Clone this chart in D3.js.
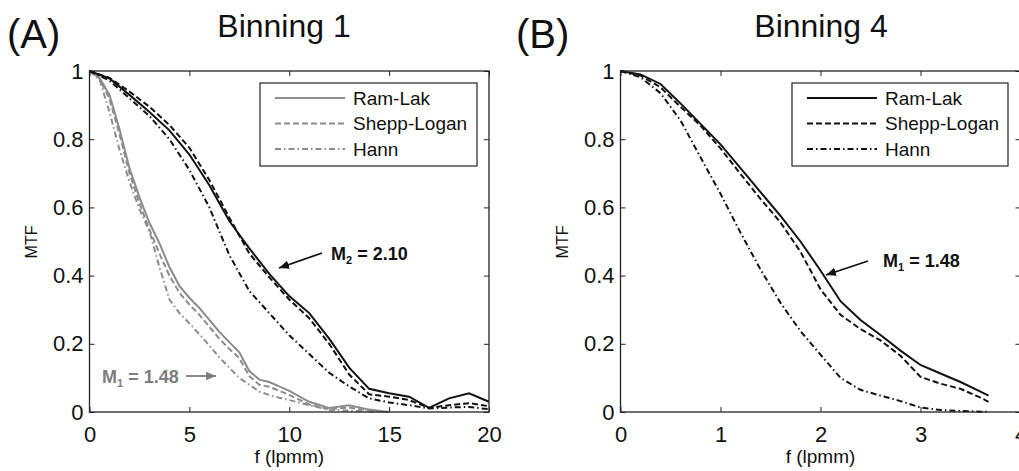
<!DOCTYPE html>
<html>
<head>
<meta charset="utf-8">
<script src="https://cdn.jsdelivr.net/npm/d3@7"></script>
<style>
  html, body { margin: 0; padding: 0; background: #fff; }
  svg { display: block; font-family: "Liberation Sans", Arial, Helvetica, sans-serif; }
</style>
</head>
<body>
<svg id="chart" width="1019" height="471"></svg>
<script>
// ---- Binning 1: spatial frequency samples (lpmm) ----
const freqB1M2 = [0,1,2,3,4,5,6,7,8,9,10,11,12,13,14,15,16,17,18,19,20];
const freqB1M1 = [0,0.5,1,1.5,2,2.5,3,3.5,4,4.5,5,5.5,6,6.5,7,7.5,8,8.5,9,9.5,10,11,12,13,14,15];

// MTF at magnification M2 = 2.10 (black curves)
const ramLakB1M2    = [1.0,0.978,0.93,0.88,0.826,0.755,0.665,0.56,0.48,0.405,0.34,0.29,0.215,0.13,0.068,0.055,0.045,0.012,0.04,0.055,0.03];
const sheppLoganB1M2 = [1.0,0.98,0.94,0.895,0.842,0.775,0.68,0.57,0.465,0.395,0.33,0.275,0.2,0.11,0.052,0.045,0.035,0.012,0.02,0.026,0.017];
const hannB1M2      = [1.0,0.972,0.92,0.868,0.8,0.71,0.6,0.46,0.355,0.29,0.225,0.17,0.115,0.075,0.04,0.028,0.02,0.01,0.013,0.015,0.008];

// MTF at magnification M1 = 1.48 (gray curves)
const ramLakB1M1    = [1.0,0.98,0.93,0.83,0.715,0.63,0.555,0.495,0.425,0.37,0.335,0.305,0.27,0.235,0.205,0.175,0.12,0.095,0.088,0.075,0.062,0.03,0.012,0.02,0.007,0.0];
const sheppLoganB1M1 = [1.0,0.978,0.918,0.815,0.70,0.612,0.535,0.465,0.40,0.35,0.315,0.285,0.25,0.215,0.185,0.158,0.105,0.08,0.074,0.062,0.05,0.022,0.008,0.013,0.004,0.0];
const hannB1M1      = [1.0,0.975,0.88,0.77,0.675,0.595,0.53,0.425,0.33,0.29,0.26,0.228,0.195,0.16,0.13,0.1,0.08,0.06,0.05,0.042,0.035,0.02,0.006,0.004,0.001,0.0];

// ---- Binning 4, magnification M1 = 1.48 ----
const freqB4 = [0,0.2,0.4,0.6,0.8,1.0,1.2,1.4,1.6,1.8,2.0,2.2,2.4,2.6,2.8,3.0,3.2,3.4,3.6,3.68];
const ramLakB4     = [1.0,0.99,0.962,0.905,0.845,0.785,0.715,0.645,0.575,0.50,0.415,0.325,0.27,0.226,0.18,0.138,0.113,0.088,0.06,0.048];
const sheppLoganB4 = [1.0,0.987,0.952,0.895,0.84,0.773,0.698,0.625,0.556,0.47,0.36,0.285,0.243,0.21,0.165,0.103,0.083,0.068,0.042,0.03];
const hannB4       = [1.0,0.982,0.935,0.855,0.747,0.64,0.526,0.418,0.32,0.237,0.168,0.1,0.065,0.048,0.032,0.013,0.006,0.003,0.001,0.001];

// Axis ticks and labels
const ticksB1 = [0,5,10,15,20];
const ticksB4 = [0,1,2,3,4];
const ticksMTF = [0,0.2,0.4,0.6,0.8,1];
const filterNames = ["Ram-Lak","Shepp-Logan","Hann"];

const svg = d3.select("#chart");
svg.append("rect").attr("width",1019).attr("height",471).attr("fill","#fff");

const GRAY = "#8c8c8c";
const dashes = ["none","6,3","6,3,1.5,3"];
const plotTop = 71, plotBottom = 412;

function panel(opts) {
  const x = d3.scaleLinear().domain(opts.xDomain).range(opts.xRange);
  const y = d3.scaleLinear().domain([0,1]).range([plotBottom, plotTop]);
  const g = svg.append("g");
  const [x0, x1] = opts.xRange;

  // inward ticks on all four sides
  const fmtY = d => d === 0 || d === 1 ? String(d) : d3.format(".1f")(d);
  const axB = g.append("g").attr("transform",`translate(0,${plotBottom})`)
    .call(d3.axisBottom(x).tickValues(opts.xTicks).tickSize(-5).tickPadding(14).tickFormat(d3.format("d")));
  const axT = g.append("g").attr("transform",`translate(0,${plotTop})`)
    .call(d3.axisTop(x).tickValues(opts.xTicks).tickSize(-5).tickFormat(""));
  const axL = g.append("g").attr("transform",`translate(${x0},0)`)
    .call(d3.axisLeft(y).tickValues(ticksMTF).tickSize(-5).tickPadding(6).tickFormat(fmtY));
  const axR = g.append("g").attr("transform",`translate(${x1},0)`)
    .call(d3.axisRight(y).tickValues(ticksMTF).tickSize(-5).tickFormat(""));
  [axB, axT, axL, axR].forEach(a => {
    a.select(".domain").remove();
    a.selectAll(".tick line").attr("stroke","#222").attr("stroke-width",1);
    a.selectAll("text").attr("fill","#111").attr("font-size",22)
      .attr("font-family",'"Liberation Sans", Arial, sans-serif');
  });

  // curves
  const line = d3.line().x(d => x(d[0])).y(d => y(d[1]));
  opts.series.forEach(s => {
    g.append("path")
      .datum(s.f.map((f,i) => [f, s.v[i]]))
      .attr("d", line)
      .attr("fill","none")
      .attr("stroke", s.color)
      .attr("stroke-width", 2)
      .attr("stroke-dasharray", dashes[s.style]);
  });

  // frame
  g.append("rect").attr("x",x0).attr("y",plotTop).attr("width",x1-x0).attr("height",plotBottom-plotTop)
    .attr("fill","none").attr("stroke","#222").attr("stroke-width",1.3);

  // legend
  const lg = g.append("g");
  lg.append("rect").attr("x",opts.legend.x).attr("y",83).attr("width",opts.legend.w).attr("height",83)
    .attr("fill","#fff").attr("stroke","#333").attr("stroke-width",1.3);
  filterNames.forEach((name,i) => {
    const ly = 98 + i*25.5;
    lg.append("line").attr("x1",opts.legend.x+15).attr("x2",opts.legend.x+85)
      .attr("y1",ly).attr("y2",ly)
      .attr("stroke",opts.legend.color).attr("stroke-width",2)
      .attr("stroke-dasharray",dashes[i]);
    lg.append("text").attr("x",opts.legend.x+93).attr("y",ly).attr("dy","0.35em")
      .attr("font-size",19).attr("fill","#111").text(name);
  });

  // axis titles
  g.append("text").attr("x",(x0+x1)/2).attr("y",463).attr("text-anchor","middle")
    .attr("font-size",19).attr("fill","#111").text("f (lpmm)");
  g.append("text").attr("transform",`translate(${x0-53},${242}) rotate(-90)`)
    .attr("text-anchor","middle").attr("font-size",16).attr("fill","#111").text("MTF");
  g.append("text").attr("x",opts.titleX).attr("y",37).attr("text-anchor","middle")
    .attr("font-size",32).attr("fill","#111").text(opts.title);
  g.append("text").attr("x",opts.tagX).attr("y",48)
    .attr("font-size",40).attr("fill","#111").text(opts.tag);
  return {x, y, g};
}

const defs = svg.append("defs");
function arrowHead(id, color) {
  defs.append("marker").attr("id",id).attr("viewBox","0 0 10 10")
    .attr("refX",10).attr("refY",5).attr("markerWidth",10).attr("markerHeight",10)
    .attr("markerUnits","userSpaceOnUse").attr("orient","auto")
    .append("path").attr("d","M0,0.8 L10,5 L0,9.2 Z").attr("fill",color);
}
arrowHead("arrowBlack","#111");
arrowHead("arrowGray","#7d7d7d");

function annotate(g, p, color, marker, main, sub, rest) {
  g.append("line").attr("x1",p.x1).attr("y1",p.y1).attr("x2",p.x2).attr("y2",p.y2)
    .attr("stroke",color).attr("stroke-width",1.8).attr("marker-end",`url(#${marker})`);
  const t = g.append("text").attr("x",p.tx).attr("y",p.ty).attr("font-size",18)
    .attr("font-weight","bold").attr("fill",color);
  t.append("tspan").text(main);
  t.append("tspan").attr("font-size",11).attr("dy",4).text(sub);
  t.append("tspan").attr("dy",-4).text(rest);
}

// (A) Binning 1
const A = panel({
  xDomain:[0,20], xRange:[89.5,489], xTicks:ticksB1,
  title:"Binning 1", titleX:284, tag:"(A)", tagX:7,
  legend:{x:260, w:217, color:GRAY},
  series:[
    {f:freqB1M1, v:ramLakB1M1, color:GRAY, style:0},
    {f:freqB1M1, v:sheppLoganB1M1, color:GRAY, style:1},
    {f:freqB1M1, v:hannB1M1, color:GRAY, style:2},
    {f:freqB1M2, v:ramLakB1M2, color:"#111", style:0},
    {f:freqB1M2, v:sheppLoganB1M2, color:"#111", style:1},
    {f:freqB1M2, v:hannB1M2, color:"#111", style:2}
  ]
});
annotate(A.g, {x1:322, y1:253, x2:279, y2:268, tx:331, ty:260}, "#111", "arrowBlack", "M", "2", " = 2.10");
annotate(A.g, {x1:186, y1:376, x2:216, y2:376, tx:102, ty:383}, "#7d7d7d", "arrowGray", "M", "1", " = 1.48");

// (B) Binning 4
const B = panel({
  xDomain:[0,4], xRange:[620.5,1020.5], xTicks:ticksB4,
  title:"Binning 4", titleX:821, tag:"(B)", tagX:516,
  legend:{x:792, w:216, color:"#111"},
  series:[
    {f:freqB4, v:ramLakB4, color:"#111", style:0},
    {f:freqB4, v:sheppLoganB4, color:"#111", style:1},
    {f:freqB4, v:hannB4, color:"#111", style:2}
  ]
});
annotate(B.g, {x1:868, y1:261, x2:826, y2:275, tx:883, ty:267}, "#111", "arrowBlack", "M", "1", " = 1.48");
</script>
</body>
</html>
